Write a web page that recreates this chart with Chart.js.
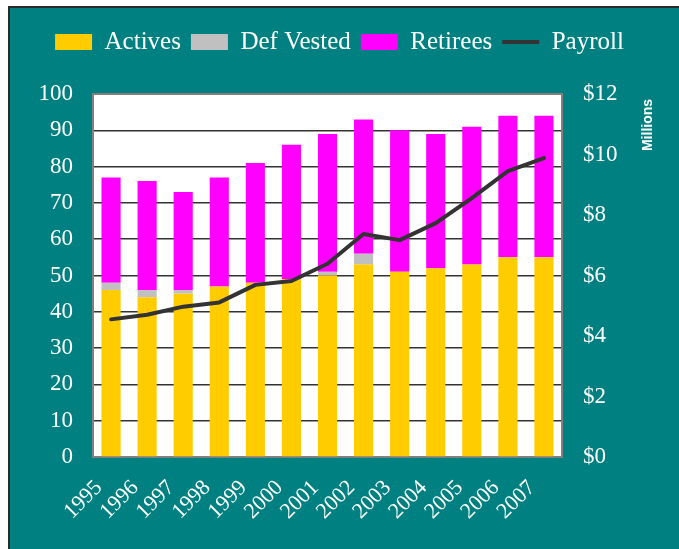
<!DOCTYPE html>
<html>
<head>
<meta charset="utf-8">
<script src="https://cdn.jsdelivr.net/npm/chart.js@4/dist/chart.umd.min.js"></script>
<style>
  html, body { margin: 0; padding: 0; background: #ffffff; width: 679px; height: 549px; overflow: hidden; }
  #frame { position: absolute; left: 8px; top: 6px; right: 0; bottom: 0; background: #008080; border-top: 2px solid #2b2b2b; border-left: 2px solid #2b2b2b; }
  #c { position: absolute; left: 0; top: 0; }
</style>
</head>
<body>
<div id="frame"></div>
<canvas id="c" width="679" height="549"></canvas>
<script>
// ---- data ----
const years = ['1995','1996','1997','1998','1999','2000','2001','2002','2003','2004','2005','2006','2007'];
const actives = [46, 44, 45, 47, 48, 49, 50, 53, 51, 52, 53, 55, 55];
const defVested = [2, 2, 1, 0, 0, 0, 1, 3, 0, 0, 0, 0, 0];
const retirees = [29, 30, 27, 30, 33, 37, 38, 37, 39, 37, 38, 39, 39];
const payroll = [4.55, 4.70, 4.97, 5.11, 5.69, 5.82, 6.39, 7.37, 7.17, 7.73, 8.56, 9.45, 9.88];
const leftTicks = [0, 10, 20, 30, 40, 50, 60, 70, 80, 90, 100];
const rightTicks = [0, 2, 4, 6, 8, 10, 12];

const serif = '"Liberation Serif", "DejaVu Serif", serif';

const plotDeco = {
  id: 'plotDeco',
  beforeLayout(chart) {
    const lg = chart.legend;
    if (lg && !lg._grown) {
      const f = lg.fit;
      lg.fit = function () { f.call(this); this.height += 29.5; };
      lg._grown = true;
    }
  },
  beforeDraw(chart) {
    const {ctx, chartArea: a} = chart;
    ctx.save();
    ctx.fillStyle = '#ffffff';
    ctx.fillRect(a.left, a.top, a.right - a.left, a.bottom - a.top);
    ctx.restore();
  },
  beforeDatasetsDraw(chart) {
    const {ctx, chartArea: a} = chart;
    ctx.save();
    ctx.strokeStyle = '#808080';
    ctx.lineWidth = 2;
    ctx.strokeRect(a.left, a.top, a.right - a.left, a.bottom - a.top);
    ctx.restore();
  },
  afterDraw(chart) {
    const {ctx} = chart;
    ctx.save();
    ctx.translate(648, 125);
    ctx.rotate(-Math.PI / 2);
    ctx.fillStyle = '#ffffff';
    ctx.font = 'bold 14px "Liberation Sans", Arial, sans-serif';
    ctx.textAlign = 'center';
    ctx.textBaseline = 'middle';
    ctx.fillText('Millions', 0, 0);
    ctx.restore();
  }
};

new Chart(document.getElementById('c'), {
  data: {
    labels: years,
    datasets: [
      { type: 'bar', label: 'Actives', data: actives, backgroundColor: '#FFCC00', borderWidth: 0, yAxisID: 'y', order: 1, barPercentage: 0.53, categoryPercentage: 1 },
      { type: 'bar', label: 'Def Vested', data: defVested, backgroundColor: '#C0C0C0', borderWidth: 0, yAxisID: 'y', order: 1, barPercentage: 0.53, categoryPercentage: 1 },
      { type: 'bar', label: 'Retirees', data: retirees, backgroundColor: '#FF00FF', borderWidth: 0, yAxisID: 'y', order: 1, barPercentage: 0.53, categoryPercentage: 1 },
      { type: 'line', label: 'Payroll', data: payroll, borderColor: '#333333', backgroundColor: '#333333', borderWidth: 4, pointRadius: 0, tension: 0, yAxisID: 'y1', order: 0, borderJoinStyle: 'round', borderCapStyle: 'round' }
    ]
  },
  options: {
    responsive: false,
    animation: false,
    layout: { padding: { top: 19.5, left: 0, right: 0, bottom: 0 } },
    plugins: {
      tooltip: { enabled: false },
      legend: {
        position: 'top',
        labels: {
          color: '#ffffff',
          font: { family: serif, size: 25 },
          usePointStyle: true,
          pointStyleWidth: 37,
          boxHeight: 16,
          padding: 10,
          sort: (a, b) => a.datasetIndex - b.datasetIndex,
          generateLabels(chart) {
            const items = Chart.defaults.plugins.legend.labels.generateLabels(chart);
            items.forEach((it) => {
              if (it.datasetIndex === 3) { it.pointStyle = 'line'; it.lineWidth = 4; it.strokeStyle = '#333333'; }
              else { it.pointStyle = 'rect'; it.lineWidth = 0; }
            });
            return items;
          }
        }
      }
    },
    scales: {
      x: {
        stacked: true,
        grid: { display: false, drawTicks: false },
        border: { display: false },
        ticks: {
          color: '#ffffff', font: { family: serif, size: 22 },
          minRotation: 45, maxRotation: 45, autoSkip: false,
          padding: 18, labelOffset: -12
        },
        afterFit(s) { s.height = 92; }
      },
      y: {
        stacked: true,
        position: 'left',
        min: 0, max: 100,
        afterBuildTicks(s) { s.ticks = leftTicks.map(v => ({ value: v })); },
        grid: { color: '#333333', lineWidth: 1.5, drawTicks: false },
        border: { display: false },
        ticks: { color: '#ffffff', font: { family: serif, size: 23 }, padding: 20 },
        afterFit(s) { s.width = 93; }
      },
      y1: {
        position: 'right',
        min: 0, max: 12,
        afterBuildTicks(s) { s.ticks = rightTicks.map(v => ({ value: v })); },
        grid: { display: false, drawTicks: false },
        border: { display: false },
        ticks: { color: '#ffffff', font: { family: serif, size: 23 }, padding: 21, callback: v => '$' + v },
        afterFit(s) { s.width = 117; }
      }
    }
  },
  plugins: [plotDeco]
});
</script>
</body>
</html>
